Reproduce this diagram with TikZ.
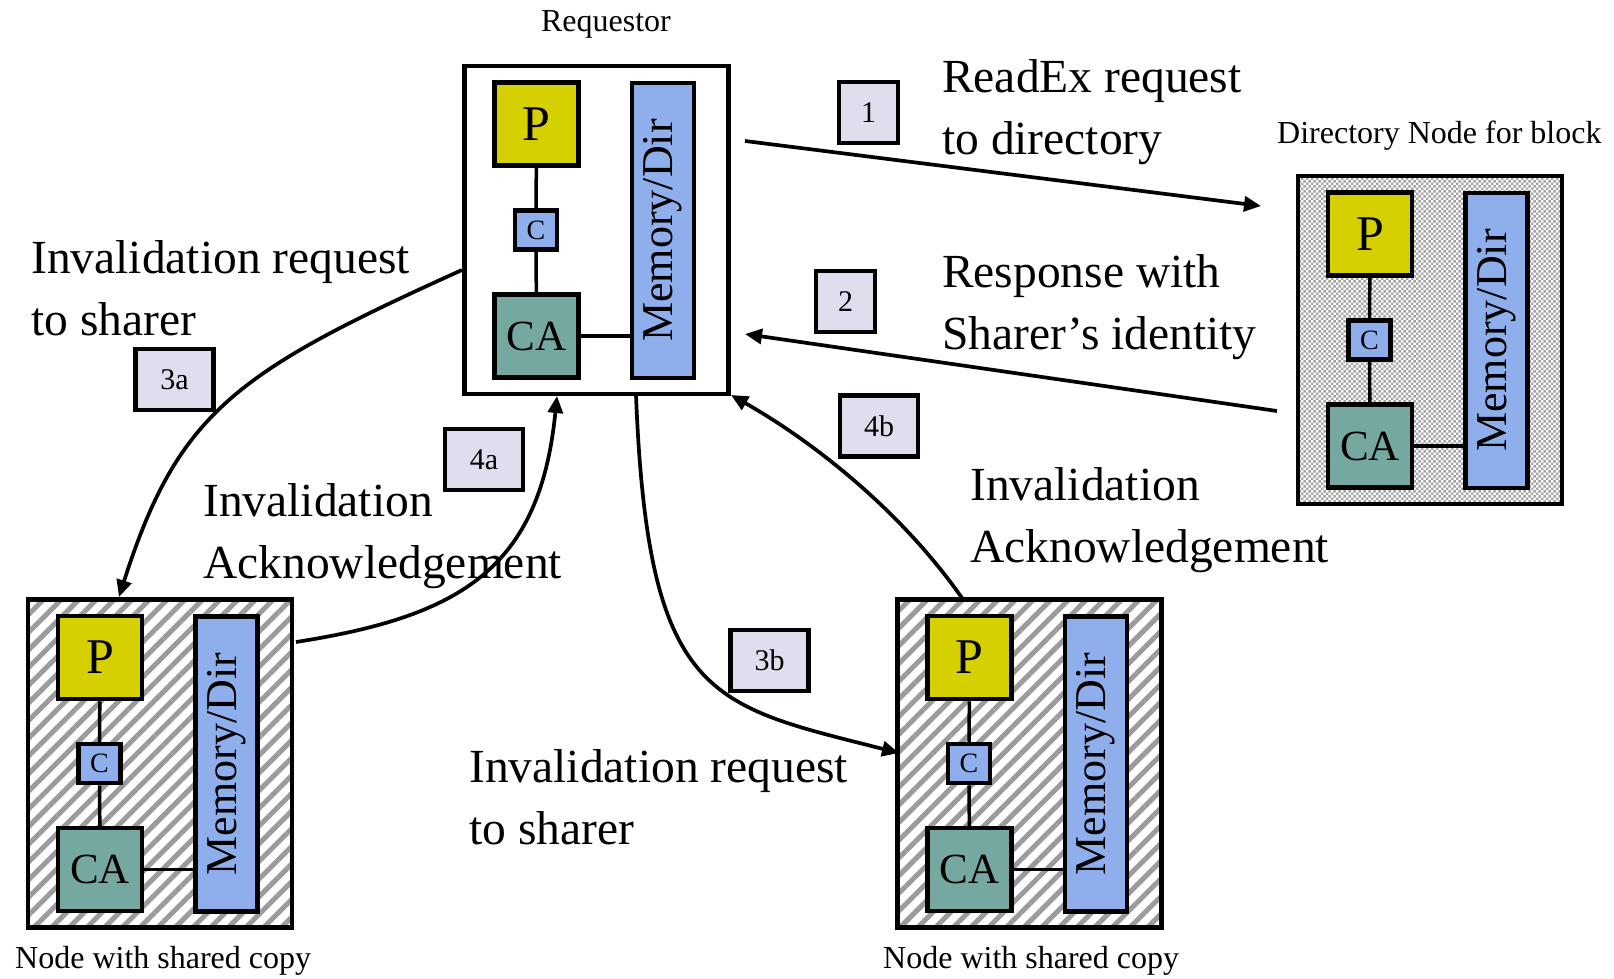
\documentclass[tikz,border=0pt]{standalone}
\usepackage{fontspec}
\usepackage{graphicx}
\setmainfont{Liberation Serif}
\usetikzlibrary{arrows.meta,patterns.meta,calc}

\definecolor{procyellow}{RGB}{214,208,0}
\definecolor{memblue}{RGB}{143,174,236}
\definecolor{agentteal}{RGB}{118,168,162}
\definecolor{steplav}{RGB}{222,222,238}
\definecolor{hatchgray}{RGB}{155,155,155}
\definecolor{checkgray}{RGB}{165,165,165}

% fine grey/white checkerboard used for the home (directory) node
\pgfdeclarepattern{
  name=checkerfine,
  type=uncolored,
  bottom left={\pgfpoint{0pt}{0pt}},
  top right={\pgfpoint{5.4pt}{5.4pt}},
  tile size={\pgfpoint{5.4pt}{5.4pt}},
  code={
    \pgfpathrectangle{\pgfpointorigin}{\pgfpoint{2.7pt}{2.7pt}}
    \pgfpathrectangle{\pgfpoint{2.7pt}{2.7pt}}{\pgfpoint{2.7pt}{2.7pt}}
    \pgfusepath{fill}
  }
}

\tikzset{
  unit/.style={draw, line width=4.5pt, minimum width=264pt, minimum height=328pt,
    anchor=north west, inner sep=0pt, outer sep=0pt},
  plainunit/.style={fill=white},
  homeunit/.style={pattern=checkerfine, pattern color=checkgray},
  sharerunit/.style={pattern={Lines[angle=45,distance=12.5pt,line width=5pt]},
    pattern color=hatchgray},
  proc/.style={draw, line width=4.5pt, fill=procyellow, minimum width=84pt,
    minimum height=83pt, inner sep=0pt, font=\fontsize{50}{50}\selectfont},
  cache/.style={draw, line width=4.5pt, fill=memblue, minimum width=42pt,
    minimum height=39pt, inner sep=0pt, font=\fontsize{28}{28}\selectfont},
  agent/.style={draw, line width=4.5pt, fill=agentteal, minimum width=84pt,
    minimum height=83pt, inner sep=0pt, font=\fontsize{43}{43}\selectfont},
  mem/.style={draw, line width=4.5pt, fill=memblue, minimum width=62pt,
    minimum height=295pt, inner sep=0pt, font=\fontsize{44}{44}\selectfont},
  link/.style={line width=3.5pt},
  steplabel/.style={draw, line width=4.5pt, fill=steplav, minimum height=61pt,
    inner sep=0pt, font=\fontsize{30}{30}\selectfont},
  narrowlabel/.style={steplabel, minimum width=59pt},
  widelabel/.style={steplabel, minimum width=78pt},
  msg/.style={line width=3.7pt, -{Triangle[length=17pt,width=15pt]}},
  caption/.style={anchor=base west, inner sep=0pt, font=\fontsize{32}{32}\selectfont},
  % two-line notes are placed by the baseline of their last line
  note/.style={anchor=base west, inner sep=0pt, align=left,
    font=\fontsize{47.5}{62}\selectfont},
}

% one machine: processor, cache, communication assist and memory/directory
\newcommand\cohunit[4]{%
  \node[unit, #4] (#1) at (#2,#3) {};
  \node[proc]  (#1-P)  at ($(#1.north west)+(72,58)$) {P};
  \node[cache] (#1-C)  at ($(#1.north west)+(71.5,164)$) {C};
  \node[agent] (#1-CA) at ($(#1.north west)+(72,270)$) {CA};
  \node[mem]   (#1-M)  at ($(#1.north west)+(198.5,164.5)$) {\rotatebox{90}{Memory/Dir}};
  \draw[link] (#1-P) -- (#1-C);
  \draw[link] (#1-C) -- (#1-CA);
  \draw[link] (#1-CA.east) -- (#1-CA.east -| #1-M.west);
}

\begin{document}
\begin{tikzpicture}[x=1pt,y=-1pt]
  \path[fill=white] (0,0) rectangle (1614,979);
  \useasboundingbox (0,0) rectangle (1614,979);

  % machines
  \cohunit{req}{464.5}{66}{plainunit}
  \cohunit{dir}{1298}{176}{homeunit}
  \cohunit{shl}{28}{599.5}{sharerunit}
  \cohunit{shr}{897.5}{599.5}{sharerunit}

  % captions
  \node[caption, anchor=base] (capreq) at (606,32) {Requestor};
  \node[caption] (capdir) at (1277,143) {Directory Node for block};
  \node[caption] (capshl) at (15,968) {Node with shared copy};
  \node[caption] (capshr) at (883,968) {Node with shared copy};

  % step numbers
  \node[narrowlabel] (lab1)  at (868.5,112.5) {1};
  \node[narrowlabel] (lab2)  at (845.5,301.5) {2};
  \node[widelabel]   (lab3a) at (174.5,379.5) {3a};
  \node[widelabel]   (lab4a) at (484,459.5)   {4a};
  \node[widelabel]   (lab4b) at (879,426)     {4b};
  \node[widelabel]   (lab3b) at (769.5,660.5) {3b};

  % message descriptions
  \node[note] (txt1)  at (942,154) {ReadEx request\\to directory};
  \node[note] (txt2)  at (942,349) {Response with\\Sharer’s identity};
  \node[note] (txt3a) at (31,335)  {Invalidation request\\to sharer};
  \node[note] (txt4a) at (203,578) {Invalidation\\Acknowledgement};
  \node[note] (txt4b) at (970,562) {Invalidation\\Acknowledgement};
  \node[note] (txt3b) at (469,844) {Invalidation request\\to sharer};

  % message end points
  \coordinate (m1s) at (745,141);
  \coordinate (m1e) at (1261,206);
  \coordinate (m2s) at (1277,411);
  \coordinate (m2e) at (745,334);
  \coordinate (m3as) at (462,270);
  \coordinate (m3ae) at (119,597);
  \coordinate (m4as) at (296,642);
  \coordinate (m4ae) at (557,396);
  \coordinate (m3bs) at (636,395);
  \coordinate (m3be) at (899,753);
  \coordinate (m4bs) at (962,598);
  \coordinate (m4be) at (731,395);

  % messages
  \draw[msg] (m1s) -- (m1e);
  \draw[msg] (m2s) -- (m2e);
  \draw[msg] (m3as) .. controls (236,372) and (178,412) .. (m3ae);
  \draw[msg] (m4as) .. controls (463,616) and (540,567) .. (m4ae);
  \draw[msg] (m3bs) .. controls (648,700) and (710,705) .. (m3be);
  \draw[msg] (m4bs) .. controls (904,515) and (819,445) .. (m4be);
\end{tikzpicture}
\end{document}
